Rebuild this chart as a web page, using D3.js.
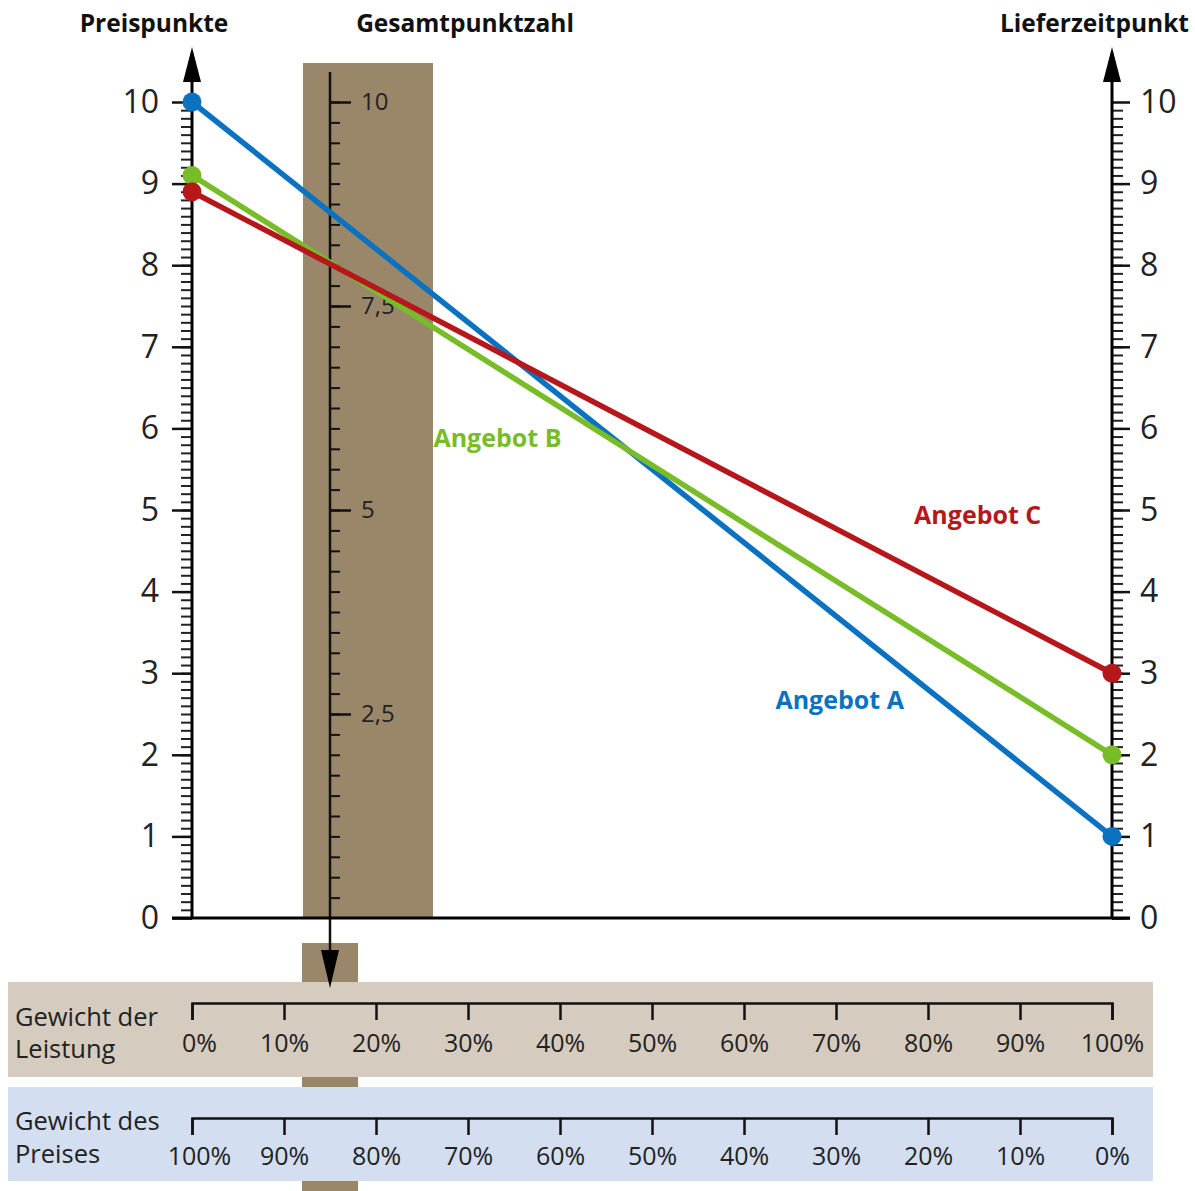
<!DOCTYPE html>
<html><head><meta charset="utf-8">
<script src="https://cdn.jsdelivr.net/npm/d3@7"></script>
<style>
body{margin:0;background:#fff;}
svg text{font-family:"Open Sans","Noto Sans",sans-serif;}
</style></head>
<body>
<svg id="c" width="1195" height="1191"></svg>
<script>
// ---- data ----
const offers = ["Angebot A", "Angebot B", "Angebot C"];
const pricePoints = [10, 9.1, 8.9];      // Preispunkte (left axis, 0% Leistung)
const deliveryPoints = [1, 2, 3];        // Lieferzeitpunkte (right axis, 100% Leistung)
const offerColors = ["#0a72c0", "#78bc28", "#b5171b"];
const labelPos = [[0.704, 2.67], [0.332, 5.88], [0.854, 4.93]]; // label anchors (weight, points)
const axisTicks = [0,1,2,3,4,5,6,7,8,9,10];
const totalTicks = [2.5, 5, 7.5, 10];
const weightLeistung = [0,10,20,30,40,50,60,70,80,90,100];
const weightPreis = [100,90,80,70,60,50,40,30,20,10,0];
const headers = ["Preispunkte", "Gesamtpunktzahl", "Lieferzeitpunkt"];
const panelTitles = [["Gewicht der","Leistung"],["Gewicht des","Preises"]];
const markedWeight = 0.15;

const svg = d3.select("#c");
const x = d3.scaleLinear().domain([0,1]).range([192,1112]);
const y = d3.scaleLinear().domain([0,10]).range([918,102]);
const xm = x(markedWeight); // middle scale position

// brown marker rectangles
svg.append("rect").attr("x",303).attr("y",63).attr("width",130).attr("height",y(0)-63).attr("fill","#9a876a");
svg.append("rect").attr("x",302).attr("y",943).attr("width",56).attr("height",248).attr("fill","#9a876a");

// bottom panels
const panels = [{y0:982,h:95,fill:"#d5cbbf",vals:weightLeistung,ay:1003,ly:1052,t:panelTitles[0],ty:[1026,1058]},
                {y0:1087,h:94,fill:"#d3dff1",vals:weightPreis,ay:1118,ly:1165,t:panelTitles[1],ty:[1130,1163]}];
panels.forEach(p=>{
  svg.append("rect").attr("x",8).attr("y",p.y0).attr("width",1145).attr("height",p.h).attr("fill",p.fill);
  const sx = d3.scaleLinear().domain([0,10]).range([x(0), x(1)]);
  const g = svg.append("g").attr("transform",`translate(0,${p.ay})`)
    .call(d3.axisBottom(sx).tickValues(d3.range(11)).tickSize(17).tickSizeOuter(17)
      .tickFormat(i=>p.vals[i]+"%"));
  g.select(".domain").attr("stroke","#111").attr("stroke-width",2.5);
  g.selectAll(".tick line").attr("stroke","#111").attr("stroke-width",2.5);
  g.selectAll(".tick text").attr("y",p.ly-p.ay).attr("dy",0).attr("font-size",25).attr("fill","#222")
    .attr("dx",(d,i)=>i===0?7:0);
  p.t.forEach((s,i)=>svg.append("text").attr("x",15).attr("y",p.ty[i]).attr("font-size",25.5).attr("fill","#222").text(s));
});

// middle total-score scale
const gm = svg.append("g").attr("transform",`translate(${xm},0)`);
gm.call(d3.axisRight(y).tickValues(d3.range(0,10.01,0.25).filter(v=>v<=10 && v>0)).tickSize(10).tickFormat(""));
gm.select(".domain").remove();
gm.selectAll("line").attr("stroke","#111").attr("stroke-width",2);
const gm2 = svg.append("g").attr("transform",`translate(${xm},0)`);
gm2.call(d3.axisRight(y).tickValues(totalTicks).tickSize(21).tickPadding(10)
  .tickFormat(v=>String(v).replace(".",",")));
gm2.select(".domain").remove();
gm2.selectAll("line").attr("stroke","#111").attr("stroke-width",2.5);
gm2.selectAll("text").attr("font-size",24).attr("fill","#222");
svg.append("line").attr("x1",xm).attr("x2",xm).attr("y1",72).attr("y2",955).attr("stroke","#111").attr("stroke-width",2.5);
svg.append("path").attr("d",`M${xm-9},950 L${xm+9},950 L${xm},988 Z`).attr("fill","#000");

// left axis
const gl = svg.append("g").attr("transform",`translate(${x(0)},0)`);
gl.call(d3.axisLeft(y).tickValues(d3.range(0,100).map(i=>i/10)).tickSize(11).tickFormat(""));
gl.select(".domain").remove();
gl.selectAll("line").attr("stroke","#222").attr("stroke-width",2);
const gl2 = svg.append("g").attr("transform",`translate(${x(0)},0)`);
gl2.call(d3.axisLeft(y).tickValues(axisTicks).tickSize(20).tickPadding(13));
gl2.select(".domain").remove();
gl2.selectAll("line").attr("stroke","#111").attr("stroke-width",2.5);
gl2.selectAll("text").attr("font-size",32).attr("fill","#222");

// right axis
const gr = svg.append("g").attr("transform",`translate(${x(1)},0)`);
gr.call(d3.axisRight(y).tickValues(d3.range(0,100).map(i=>i/10)).tickSize(11).tickFormat(""));
gr.select(".domain").remove();
gr.selectAll("line").attr("stroke","#222").attr("stroke-width",2);
const gr2 = svg.append("g").attr("transform",`translate(${x(1)},0)`);
gr2.call(d3.axisRight(y).tickValues(axisTicks).tickSize(18).tickPadding(10));
gr2.select(".domain").remove();
gr2.selectAll("line").attr("stroke","#111").attr("stroke-width",2.5);
gr2.selectAll("text").attr("font-size",32).attr("fill","#222");

// axis lines + arrows
[x(0), x(1)].forEach(ax=>{
  svg.append("line").attr("x1",ax).attr("x2",ax).attr("y1",y(0)).attr("y2",80).attr("stroke","#000").attr("stroke-width",3);
  svg.append("path").attr("d",`M${ax-9},82 L${ax+9},82 L${ax},47 Z`).attr("fill","#000");
});
svg.append("line").attr("x1",172).attr("x2",1130).attr("y1",y(0)).attr("y2",y(0)).attr("stroke","#000").attr("stroke-width",3);

// headers
const hs = 24.5;
svg.append("text").attr("x",154).attr("y",32).attr("text-anchor","middle").attr("font-size",hs).attr("font-weight","bold").attr("fill","#111").text(headers[0]);
svg.append("text").attr("x",465).attr("y",32).attr("text-anchor","middle").attr("font-size",hs).attr("font-weight","bold").attr("fill","#111").text(headers[1]);
svg.append("text").attr("x",1189).attr("y",32).attr("text-anchor","end").attr("font-size",hs).attr("font-weight","bold").attr("fill","#111").text(headers[2]);

// offer lines
offers.forEach((o,i)=>{
  const c = offerColors[i];
  svg.append("line").attr("x1",x(0)).attr("y1",y(pricePoints[i])).attr("x2",x(1)).attr("y2",y(deliveryPoints[i]))
    .attr("stroke",c).attr("stroke-width",5.5);
  svg.append("circle").attr("cx",x(0)).attr("cy",y(pricePoints[i])).attr("r",9.5).attr("fill",c);
  svg.append("circle").attr("cx",x(1)).attr("cy",y(deliveryPoints[i])).attr("r",9.5).attr("fill",c);
  svg.append("text").attr("x",x(labelPos[i][0])).attr("y",y(labelPos[i][1])).attr("text-anchor","middle")
    .attr("dy","0.35em").attr("font-size",25).attr("font-weight","bold").attr("fill",c).text(o);
});
</script>
</body></html>
